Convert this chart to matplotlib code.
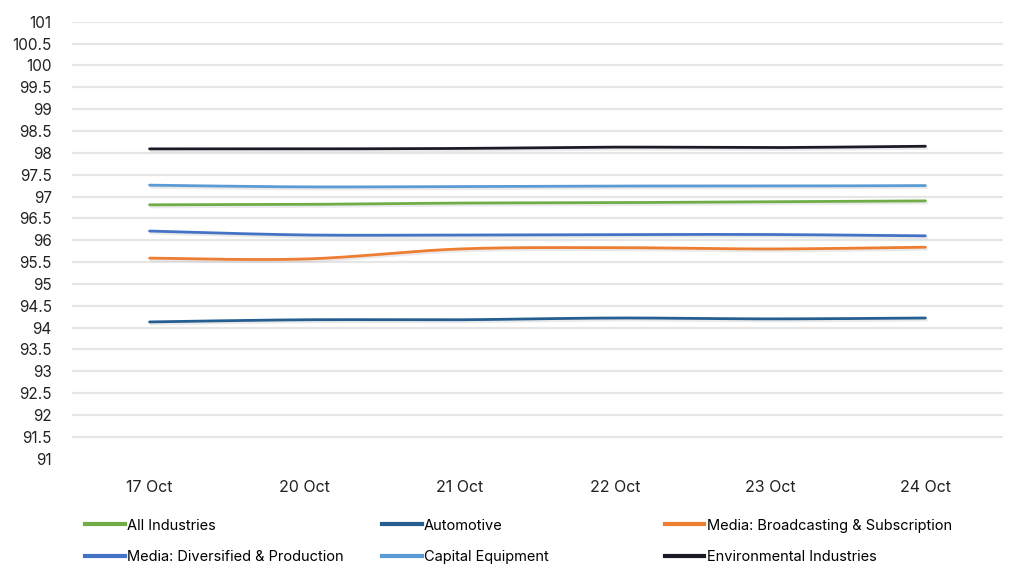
import numpy as np
import matplotlib.pyplot as plt
import matplotlib.patheffects as pe
from matplotlib.lines import Line2D

days = ['17 Oct', '20 Oct', '21 Oct', '22 Oct', '23 Oct', '24 Oct']

all_industries = [96.81, 96.82, 96.85, 96.86, 96.88, 96.90]
automotive = [94.13, 94.18, 94.18, 94.22, 94.20, 94.22]
media_broadcasting = [95.59, 95.57, 95.80, 95.83, 95.80, 95.84]
media_diversified = [96.21, 96.12, 96.12, 96.13, 96.13, 96.10]
capital_equipment = [97.26, 97.22, 97.23, 97.24, 97.24, 97.25]
environmental = [98.09, 98.09, 98.10, 98.13, 98.12, 98.15]

names = ['All Industries', 'Automotive', 'Media: Broadcasting & Subscription',
         'Media: Diversified & Production', 'Capital Equipment', 'Environmental Industries']
series = [all_industries, automotive, media_broadcasting,
          media_diversified, capital_equipment, environmental]
colors = ['#70AD47', '#255E91', '#ED7D31', '#4472C4', '#5B9BD5', '#1B1B28']


def smooth(ys, n=30):
    # catmull-rom style smoothing like excel's smoothed line
    xs = np.arange(len(ys), dtype=float)
    ys = np.asarray(ys, dtype=float)
    px = np.concatenate([[xs[0]], xs, [xs[-1]]])
    py = np.concatenate([[ys[0]], ys, [ys[-1]]])
    outx, outy = [], []
    t = np.linspace(0, 1, n)
    for i in range(1, len(px) - 2):
        p0, p1, p2, p3 = (np.array([px[j], py[j]]) for j in (i - 1, i, i + 1, i + 2))
        c1 = p1 + (p2 - p0) / 6
        c2 = p2 - (p3 - p1) / 6
        pts = ((1 - t)[:, None] ** 3 * p1 + 3 * ((1 - t) ** 2 * t)[:, None] * c1
               + 3 * ((1 - t) * t ** 2)[:, None] * c2 + (t ** 3)[:, None] * p2)
        outx.extend(pts[:, 0])
        outy.extend(pts[:, 1])
    return outx, outy


fig = plt.figure(figsize=(10.24, 5.8), dpi=100)
ax = fig.add_axes([0.0703, 0.2091, 0.9092, 0.7535])

shadow = [pe.SimpleLineShadow(offset=(1, -1.5), shadow_color='#999999', alpha=0.2), pe.Normal()]
for ys, c in zip(series, colors):
    sx, sy = smooth(ys)
    ax.plot(sx, sy, color=c, lw=2.0, solid_capstyle='round', path_effects=shadow, zorder=3)

ax.set_xlim(-0.5, 5.5)
ax.set_ylim(91, 101)
ax.set_yticks(np.arange(91, 101.01, 0.5))
ax.set_yticklabels(['%g' % v for v in np.arange(91, 101.01, 0.5)], fontsize=11, family='Inter', color='#222222')
ax.set_xticks(range(len(days)))
ax.set_xticklabels(days, fontsize=11.5, family='Inter', color='#222222')
ax.tick_params(axis='y', length=0, pad=14.5)
ax.tick_params(axis='x', length=0, pad=15.5)
ax.grid(axis='y', color='#e6e6e6', lw=1.6)
ax.get_ygridlines()[0].set_visible(False)
ax.set_axisbelow(True)
for s in ax.spines.values():
    s.set_visible(False)

# legend in three columns
cols = [[0, 3], [1, 4], [2, 5]]
xpos = [0.072, 0.362, 0.638]
for col, x in zip(cols, xpos):
    handles = [Line2D([], [], color=colors[i], lw=3) for i in col]
    fig.legend(handles, [names[i] for i in col], loc='upper left', bbox_to_anchor=(x, 0.126),
               frameon=False, handlelength=2.7, handletextpad=0.15, labelspacing=1.2,
               borderpad=0.3, prop={'family': 'Inter', 'size': 10.5})

fig.savefig('out.png', dpi=100, facecolor='white')
